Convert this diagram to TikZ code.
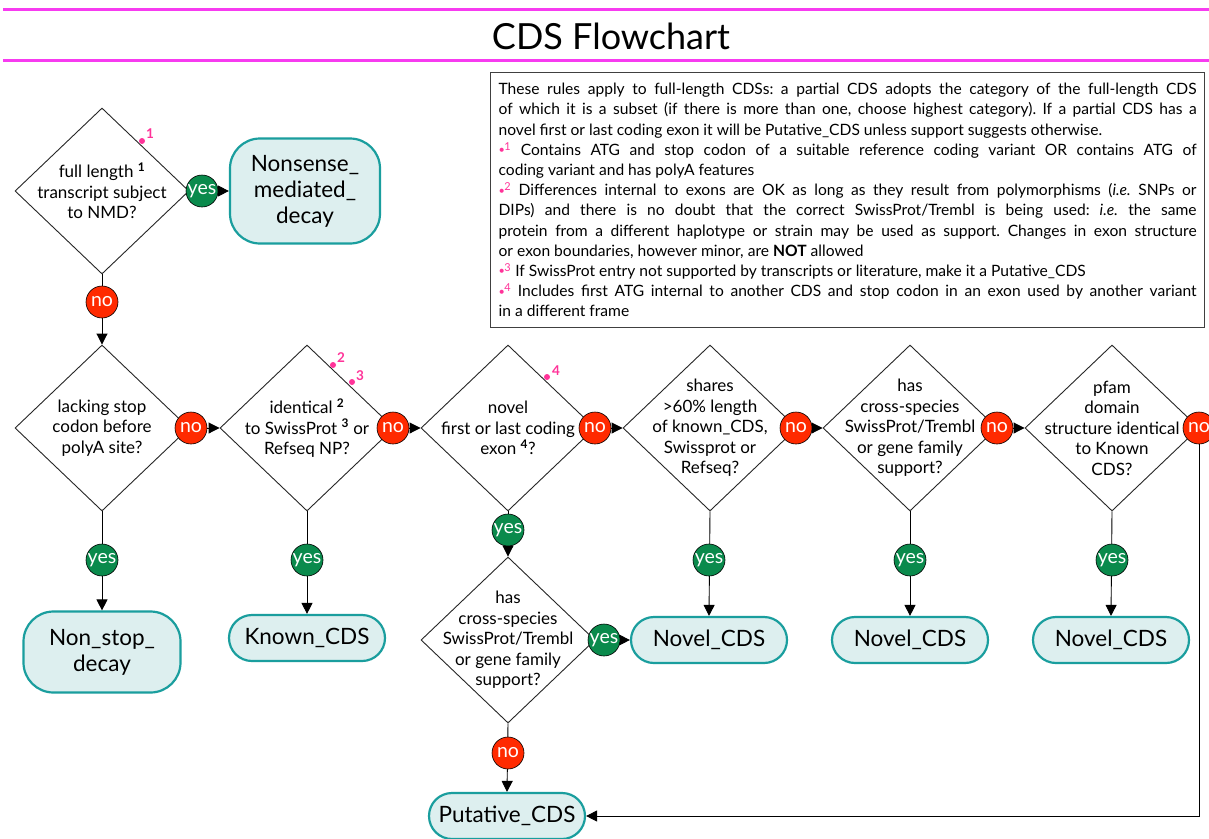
\documentclass[tikz,border=0pt]{standalone}
\usepackage{fontspec}
\setmainfont{Lato}
\usetikzlibrary{shapes.geometric,arrows.meta}
\setlength{\parindent}{0pt}
\frenchspacing

\definecolor{magline}{HTML}{F73BF0}
\definecolor{fnpink}{HTML}{FF3399}
\definecolor{yesgreen}{HTML}{0A8A4C}
\definecolor{nored}{HTML}{FF2A00}
\definecolor{endfill}{HTML}{DDEFEF}
\definecolor{endline}{HTML}{1A9E9E}

% footnote marker used inside the rules box
\newcommand{\fnmark}[1]{{\color{fnpink}\raisebox{0.2ex}{\scalebox{0.7}{•}}\kern-0.5pt\textsuperscript{#1}}}
% bold superscript reference inside a question
\newcommand{\fnref}[1]{\textsuperscript{\bfseries #1}}

\tikzset{
  decision/.style={diamond, draw=black!85, line width=0.9pt,
    minimum width=174pt, minimum height=166pt, inner sep=0pt},
  qtext/.style={align=center, inner sep=0pt,
    font=\fontsize{17}{20.5}\selectfont},
  endbox/.style={rectangle, rounded corners=23pt, draw=endline, line width=2.2pt,
    fill=endfill, align=center, minimum width=156pt, minimum height=46pt,
    inner sep=0pt, font=\fontsize{22.5}{26}\selectfont},
  tallbox/.style={endbox, rounded corners=30pt},
  answer/.style={circle, draw=black, line width=0.6pt, text=white,
    minimum size=32pt, inner sep=0pt, font=\fontsize{19.5}{19.5}\selectfont},
  yesc/.style={answer, fill=yesgreen},
  noc/.style={answer, fill=nored},
  flow/.style={draw=black, line width=0.9pt, -{Triangle[length=11pt,width=11pt]}},
  fndot/.style={circle, fill=fnpink, minimum size=6pt, inner sep=0pt},
  fnnum/.style={text=fnpink, inner sep=0pt, font=\fontsize{13.5}{13.5}\selectfont\bfseries},
  rulebar/.style={draw=magline, line width=3pt}
}

\begin{document}
\begin{tikzpicture}[x=1pt,y=-1pt]
\useasboundingbox (0,0) rectangle (1209,838);
\fill[white] (0,0) rectangle (1209,838);

% title bar
\draw[rulebar] (3,9) -- (1209,9);
\draw[rulebar] (3,60) -- (1209,60);
\node[anchor=base, inner sep=0pt, font=\fontsize{36}{40}\selectfont] (title) at (611,49) {CDS Flowchart};

% rules box
\node[draw=black!75, line width=1.2pt, anchor=north west, inner sep=8pt,
      text width=698pt, minimum height=255pt, align=justify,
      font=\fontsize{15.6}{20.2}\selectfont] (rules) at (490,72) {%
These rules apply to full-length CDSs: a partial CDS adopts the category of the full-length CDS\linebreak
of which it is a subset (if there is more than one, choose highest category). If a partial CDS has a\linebreak
novel first or last coding exon it will be Putative\_CDS unless support suggests otherwise.\par
\fnmark{1} Contains ATG and stop codon of a suitable reference coding variant OR contains ATG of\linebreak
coding variant and has polyA features\par
\fnmark{2} Differences internal to exons are OK as long as they result from polymorphisms (\emph{i.e.} SNPs or\linebreak
DIPs) and there is no doubt that the correct SwissProt/Trembl is being used: \emph{i.e.} the same\linebreak
protein from a different haplotype or strain may be used as support. Changes in exon structure\linebreak
or exon boundaries, however minor, are \textbf{NOT} allowed\par
\fnmark{3} If SwissProt entry not supported by transcripts or literature, make it a Putative\_CDS\par
\fnmark{4} Includes first ATG internal to another CDS and stop codon in an exon used by another variant\linebreak
in a different frame};

% decisions
\node[decision] (d1) at (102,191) {};
\node[qtext] (d1t) at (d1) {full length \fnref{1}\\transcript subject\\to NMD?};
\node[decision] (d2) at (102,428) {};
\node[qtext] (d2t) at (d2) {lacking stop\\codon before\\polyA site?};
\node[decision] (d3) at (307,428) {};
\node[qtext] (d3t) at (d3) {identical \fnref{2}\\to SwissProt \fnref{3} or\\Refseq NP?};
\node[decision] (d4) at (508,428) {};
\node[qtext] (d4t) at (d4) {novel\\first or last coding\\exon \fnref{4}?};
\node[decision] (d5) at (710,428) {};
\node[qtext] (d5t) at (d5) {shares\\>60\% length\\of known\_CDS,\\Swissprot or\\Refseq?};
\node[decision] (d6) at (910,428) {};
\node[qtext] (d6t) at (d6) {has\\cross-species\\SwissProt/Trembl\\or gene family\\support?};
\node[decision] (d7) at (1112,428) {};
\node[qtext] (d7t) at (d7) {pfam\\domain\\structure identical\\to Known\\CDS?};
\node[decision] (d8) at (508,640) {};
\node[qtext] (d8t) at (d8) {has\\cross-species\\SwissProt/Trembl\\or gene family\\support?};

% footnote markers on the decisions
\node[fndot] (m1) at (142,141) {};
\node[fnnum] (m1n) at (150,134) {1};
\node[fndot] (m2) at (333,365) {};
\node[fnnum] (m2n) at (341,358) {2};
\node[fndot] (m3) at (352,382) {};
\node[fnnum] (m3n) at (360,376) {3};
\node[fndot] (m4) at (547,377) {};
\node[fnnum] (m4n) at (556,371) {4};

% outcomes
\node[tallbox, minimum width=150pt, minimum height=105pt] (nmd) at (305,191) {Nonsense\_\\mediated\_\\decay};
\node[tallbox, minimum width=157pt, minimum height=81pt] (nsd) at (102,652) {Non\_stop\_\\decay};
\node[endbox] (known) at (307,638) {Known\_CDS};
\node[endbox] (nov1) at (709,640) {Novel\_CDS};
\node[endbox] (nov2) at (910,640) {Novel\_CDS};
\node[endbox] (nov3) at (1111,640) {Novel\_CDS};
\node[endbox] (put) at (507,816) {Putative\_CDS};

% connectors
\draw[flow] (d1.east) -- (nmd.west);
\draw[flow] (d1.south) -- (d2.north);
\draw[flow] (d2.east) -- (d3.west);
\draw[flow] (d3.east) -- (d4.west);
\draw[flow] (d4.east) -- (d5.west);
\draw[flow] (d5.east) -- (d6.west);
\draw[flow] (d6.east) -- (d7.west);
\draw[flow] (d7.east) |- (put.east);
\draw[flow] (d2.south) -- (nsd.north);
\draw[flow] (d3.south) -- (known.north);
\draw[flow] (d4.south) -- (d8.north);
\draw[flow] (d5.south) -- (nov1.north);
\draw[flow] (d6.south) -- (nov2.north);
\draw[flow] (d7.south) -- (nov3.north);
\draw[flow] (d8.east) -- (nov1.west);
\draw[flow] (d8.south) -- (put.north);

% answers on the connectors
\node[yesc] (a1) at (202,191) {yes};
\node[noc]  (a2) at (102,302) {no};
\node[noc]  (a3) at (191,428) {no};
\node[noc]  (a4) at (393,428) {no};
\node[noc]  (a5) at (595,428) {no};
\node[noc]  (a6) at (796,428) {no};
\node[noc]  (a7) at (997,428) {no};
\node[noc]  (a8) at (1199,428) {no};
\node[yesc] (a9) at (102,560) {yes};
\node[yesc] (a10) at (307,560) {yes};
\node[yesc] (a11) at (508,530) {yes};
\node[yesc] (a12) at (709,560) {yes};
\node[yesc] (a13) at (910,560) {yes};
\node[yesc] (a14) at (1112,560) {yes};
\node[yesc] (a15) at (604,640) {yes};
\node[noc]  (a16) at (508,753) {no};
\end{tikzpicture}
\end{document}
